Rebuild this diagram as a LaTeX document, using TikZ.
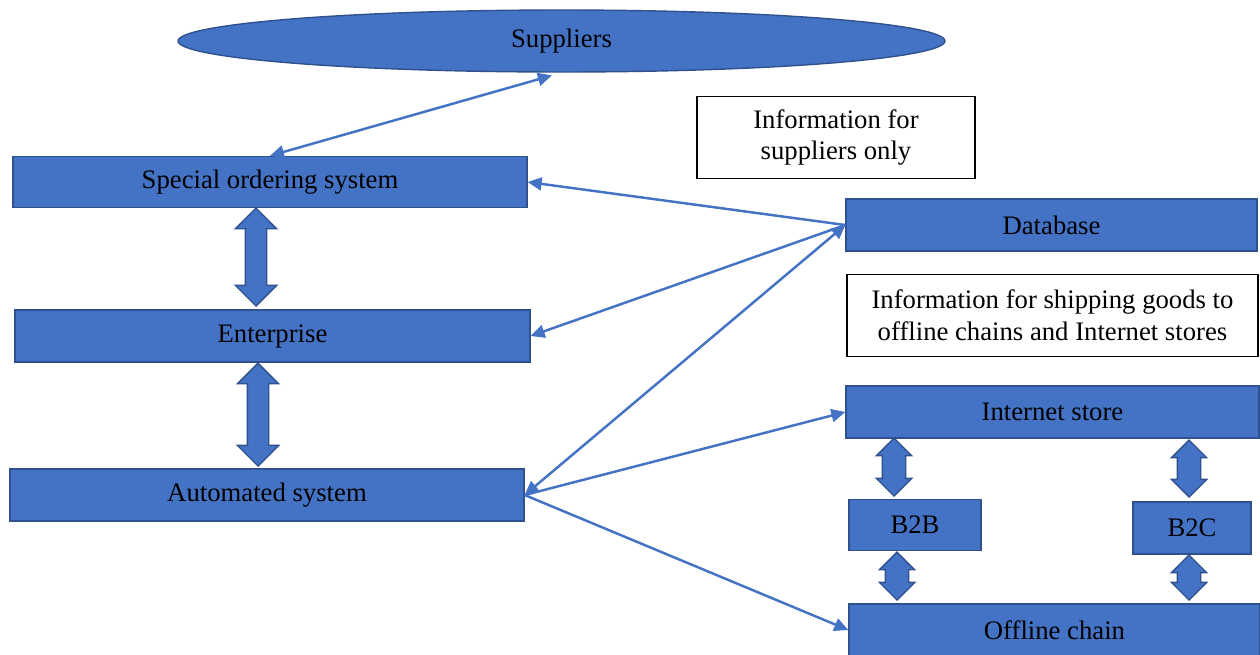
\documentclass[tikz,border=0pt]{standalone}
\usepackage{fontspec}
\setmainfont{Liberation Serif}
\usepackage{tikz}
\usetikzlibrary{arrows.meta, shapes.geometric, shapes.arrows, calc}

\definecolor{boxblue}{HTML}{4472C4}
\definecolor{boxedge}{HTML}{2F528F}

\tikzset{
  bluebox/.style={draw=boxedge, line width=0.8pt, fill=boxblue, inner sep=0pt, align=center},
  infobox/.style={draw=black, line width=0.8pt, fill=white, inner sep=0pt, align=center},
  link/.style={draw=boxblue, line width=1.4pt, -{Triangle[length=0.28cm, width=0.26cm]}},
  bigarrow/.style={double arrow, draw=boxedge, line width=0.8pt, fill=boxblue, rotate=90,
    inner xsep=0pt, inner ysep=0.2cm, double arrow head extend=0.2cm, double arrow tip angle=90},
  smallarrow/.style={bigarrow, inner ysep=0.22cm, double arrow head extend=0.12cm}
}

\begin{document}
\begin{tikzpicture}[x=0.02cm, y=-0.02cm, font=\fontsize{15.2}{18}\selectfont]
  \useasboundingbox (0,0) rectangle (1260,654);

  % left column
  \node[bluebox, ellipse, minimum width=15.34cm, minimum height=1.24cm] (sup) at (561.5,41) {Suppliers};
  \node[bluebox, minimum width=10.28cm, minimum height=1.02cm] (sos) at (270,182) {Special ordering system};
  \node[bluebox, minimum width=10.3cm, minimum height=1.04cm] (ent) at (272.5,336) {Enterprise};
  \node[bluebox, minimum width=10.28cm, minimum height=1.04cm] (aut) at (267,495) {Automated system};

  % right column
  \node[infobox, minimum width=5.56cm, minimum height=1.64cm] (info1) at (836,137.5) {Information for\\suppliers only};
  \node[bluebox, minimum width=8.22cm, minimum height=1.04cm] (db) at (1051.5,225) {Database};
  \node[infobox, minimum width=8.22cm, minimum height=1.64cm] (info2) at (1052.5,315.5) {Information for shipping goods to\\offline chains and Internet stores};
  \node[bluebox, minimum width=8.26cm, minimum height=1.04cm] (inet) at (1052.5,412) {Internet store};
  \node[bluebox, minimum width=2.64cm, minimum height=1.02cm] (b2b) at (915,525) {B2B};
  \node[bluebox, minimum width=2.36cm, minimum height=1.04cm] (b2c) at (1192,528) {B2C};
  \node[bluebox, minimum width=8.22cm, minimum height=1.04cm] (off) at (1054.5,630) {Offline chain};

  % block arrows
  \node[bigarrow, minimum height=1.96cm] (sos-ent) at (256,257) {};
  \node[bigarrow, minimum height=2.06cm] (ent-aut) at (258,414.5) {};
  \node[smallarrow, minimum height=1.16cm] (inet-b2b) at (894,467) {};
  \node[smallarrow, minimum height=0.96cm] (b2b-off) at (897,576) {};
  \node[smallarrow, minimum height=1.14cm] (inet-b2c) at (1189,468.5) {};
  \node[smallarrow, minimum height=0.9cm] (b2c-off) at (1189,577.5) {};

  % connectors
  \draw[link, {Triangle[length=0.28cm, width=0.26cm]}-{Triangle[length=0.28cm, width=0.26cm]}, shorten <=0.2cm] (sup.south) -- (sos.north);
  \draw[link] (db.west) -- (sos.east);
  \draw[link] (db.west) -- (ent.east);
  \draw[link, {Triangle[length=0.28cm, width=0.26cm]}-{Triangle[length=0.28cm, width=0.26cm]}] (db.west) -- (aut.east);
  \draw[link] (aut.east) -- (inet.west);
  \draw[link] (aut.east) -- (off.west);
\end{tikzpicture}
\end{document}
